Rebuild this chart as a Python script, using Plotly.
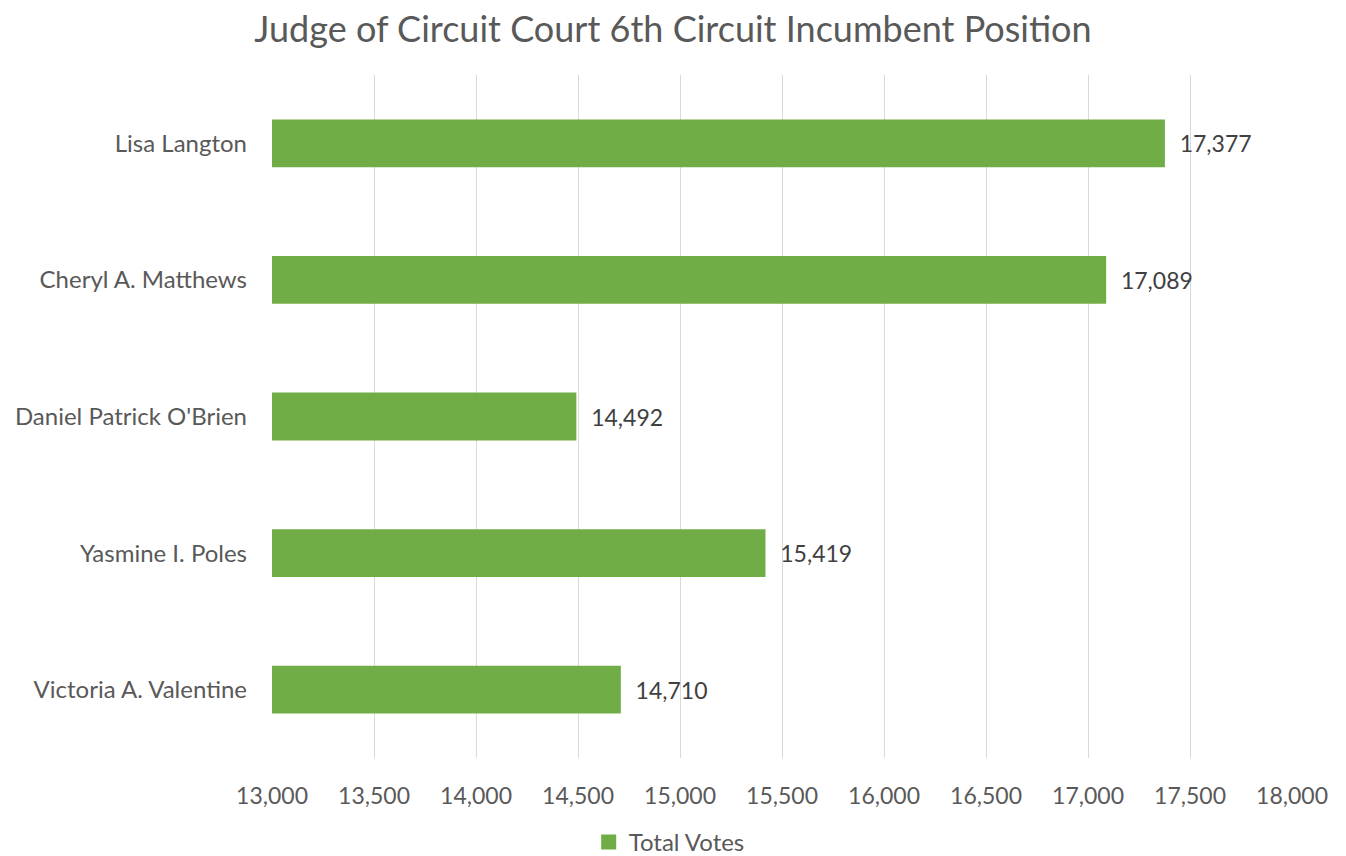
import plotly.graph_objects as go

candidates = ["Lisa Langton", "Cheryl A. Matthews", "Daniel Patrick O'Brien",
              "Yasmine I. Poles", "Victoria A. Valentine"]
votes = [17377, 17089, 14492, 15419, 14710]
tick_vals = [13000, 13500, 14000, 14500, 15000, 15500, 16000, 16500, 17000, 17500, 18000]
tick_text = [f"{v:,}" for v in tick_vals]
series_name = "Total Votes"

FONT = "Lato, 'Open Sans', sans-serif"
GREEN = "#70AD47"

# page body has an 8px margin, so the figure is drawn 8px right/down
W, H = 1338, 848

fig = go.Figure()
fig.add_trace(go.Bar(
    y=candidates, x=votes, orientation="h", name=series_name,
    marker=dict(color=GREEN, line=dict(width=0)),
    width=0.35, showlegend=False,
    text=[f"{v:,}" for v in votes], texttemplate="  %{text}",
    textposition="outside", cliponaxis=False,
    textfont=dict(family=FONT, size=23, color="#404040"),
))
# legend entry with a larger square swatch
fig.add_trace(go.Scatter(
    x=[None], y=[None], mode="markers", name=series_name,
    marker=dict(symbol="square", size=15, color=GREEN), showlegend=True,
))

fig.update_layout(
    width=W, height=H,
    paper_bgcolor="white", plot_bgcolor="white",
    margin=dict(l=264, r=54, t=67, b=98, autoexpand=False),
    title=dict(text="Judge of Circuit Court 6th Circuit Incumbent Position",
               x=0.497, xanchor="center", y=0.975, yanchor="middle",
               font=dict(family=FONT, size=36, color="#595959")),
    font=dict(family=FONT, size=23, color="#595959"),
    showlegend=True,
    legend=dict(orientation="h", xref="container", x=0.434, xanchor="left",
                yref="container", y=0.016, yanchor="middle", itemwidth=30,
                font=dict(family=FONT, size=24, color="#595959")),
    xaxis=dict(range=[13000, 18000], tickvals=tick_vals, ticktext=tick_text,
               showgrid=True, gridcolor="#D9D9D9", gridwidth=1.3,
               zeroline=False, showline=False, ticks="", ticklabelstandoff=22,
               automargin=False,
               tickfont=dict(family=FONT, size=23, color="#595959")),
    yaxis=dict(categoryorder="array", categoryarray=candidates[::-1],
               showgrid=False, zeroline=False, showline=False, ticks="",
               ticklabelstandoff=24, automargin=False,
               tickfont=dict(family=FONT, size=24, color="#595959")),
)

fig.write_html("out.html")
